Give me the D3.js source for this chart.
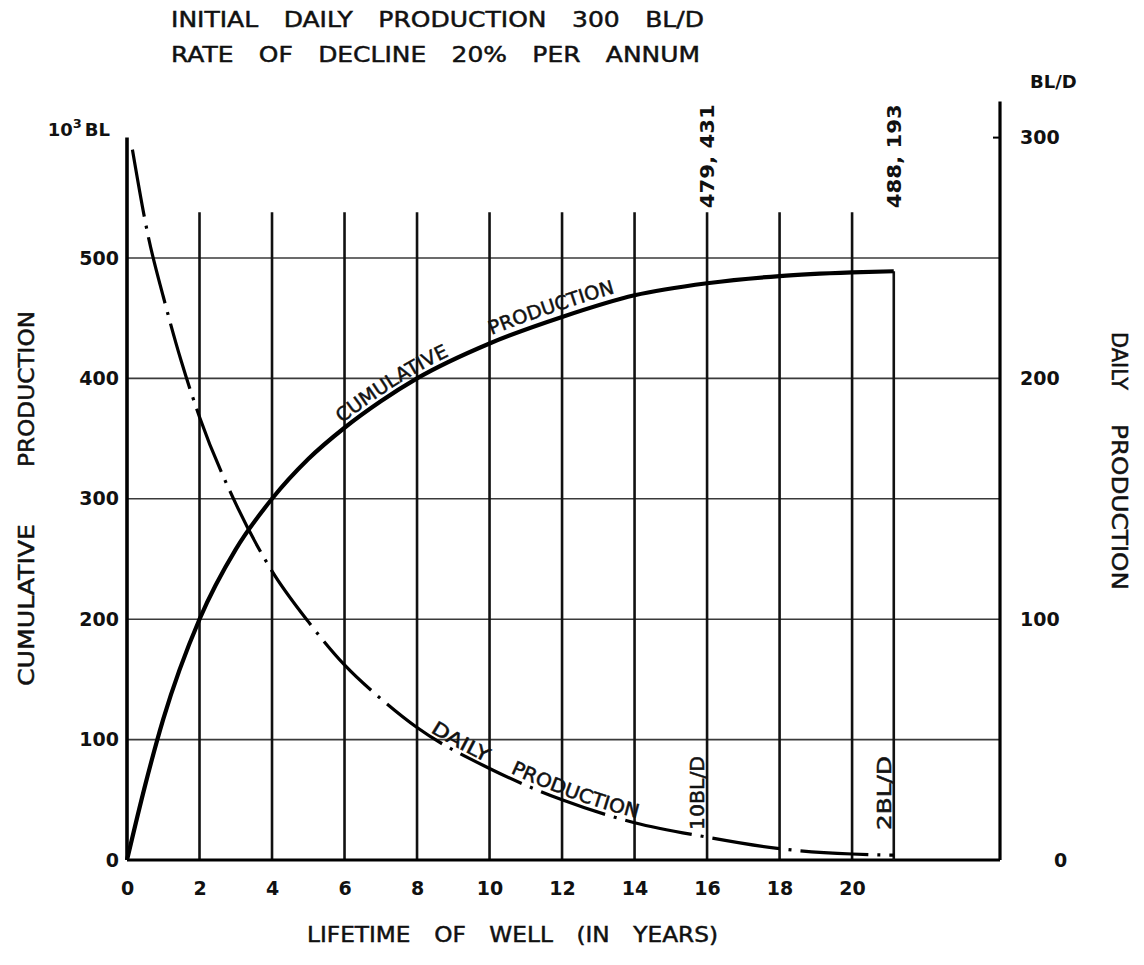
<!DOCTYPE html>
<html>
<head>
<meta charset="utf-8">
<script src="https://cdn.jsdelivr.net/npm/d3@7"></script>
<style>
  body { margin: 0; background: #fff; }
  svg { display: block; }
  text { font-family: "DejaVu Sans", sans-serif; fill: #111; }
  .lettering { stroke: #111; stroke-width: 0.5px; }
</style>
</head>
<body>
<div id="chart"></div>
<script>
// ticks
const yearTicks = [0, 2, 4, 6, 8, 10, 12, 14, 16, 18, 20];
const leftTicks = [0, 100, 200, 300, 400, 500];   // 10^3 BL
const rightTicks = [0, 100, 200, 300];            // BL/D

// cumulative production (10^3 BL)
const cumYears  = [0, 0.5, 1, 2, 3, 4, 5, 6, 7, 8, 10, 12, 14, 16, 18, 20, 21.15];
const cumValues = [0, 62, 117, 200, 258, 300, 333, 359, 381, 400, 429, 451, 469, 479, 485, 488, 489];

// daily production (BL/D)
const dailyYears  = [0.15, 0.6, 1, 1.5, 2, 3, 4, 5, 6, 7, 8, 10, 12, 14, 16, 18, 20, 21.15];
const dailyValues = [295, 258, 234, 207, 184, 148, 120, 99, 81, 67, 55, 38, 25, 15.5, 9.5, 4.7, 2.5, 2];

// marked points
const markYears = [16, 21.15];
const markCum = ["479, 431", "488, 193"];
const markDaily = ["10BL/D", "2BL/D"];

const W = 1144, H = 965;
const gridTop = 538;   // vertical grid lines stop here (left units)

const svg = d3.select("#chart").append("svg")
    .attr("width", W)
    .attr("height", H);

// scales
const x = d3.scaleLinear().domain([0, 24.08]).range([127, 1000]);
const yL = d3.scaleLinear().domain([0, 600]).range([860, 137.6]);
const yR = d3.scaleLinear().domain([0, 300]).range([860, 137.6]);

// horizontal grid
svg.append("g").selectAll("line")
    .data(leftTicks.filter(d => d > 0))
    .enter().append("line")
    .attr("x1", x(0)).attr("x2", x.range()[1])
    .attr("y1", d => yL(d)).attr("y2", d => yL(d))
    .attr("stroke", "#3a3a3a")
    .attr("stroke-width", 1.6);

// vertical grid
svg.append("g").selectAll("line")
    .data(yearTicks.filter(d => d > 0))
    .enter().append("line")
    .attr("x1", d => x(d)).attr("x2", d => x(d))
    .attr("y1", yL(gridTop)).attr("y2", yL(0))
    .attr("stroke", "#111")
    .attr("stroke-width", 2.6);

// frame: left axis, right axis, bottom
svg.append("line")
    .attr("x1", x(0)).attr("x2", x(0))
    .attr("y1", yL(600)).attr("y2", yL(0))
    .attr("stroke", "#000").attr("stroke-width", 3.6);
svg.append("line")
    .attr("x1", x.range()[1]).attr("x2", x.range()[1])
    .attr("y1", yR(315)).attr("y2", yR(0))
    .attr("stroke", "#000").attr("stroke-width", 3.2);
svg.append("line")
    .attr("x1", x(0)).attr("x2", x.range()[1])
    .attr("y1", yL(0)).attr("y2", yL(0))
    .attr("stroke", "#000").attr("stroke-width", 3.2);
// small tick at 300 on the right axis
svg.append("line")
    .attr("x1", x.range()[1] - 7).attr("x2", x.range()[1])
    .attr("y1", yR(300)).attr("y2", yR(300))
    .attr("stroke", "#000").attr("stroke-width", 2);

// axes (labels only)
const axL = svg.append("g")
    .attr("transform", `translate(${x(0)},0)`)
    .call(d3.axisLeft(yL).tickValues(leftTicks).tickSize(0).tickPadding(8));
const axR = svg.append("g")
    .attr("transform", `translate(${x.range()[1]},0)`)
    .call(d3.axisRight(yR).tickValues(rightTicks).tickSize(0).tickPadding(20));
const axB = svg.append("g")
    .attr("transform", `translate(0,${yL(0)})`)
    .call(d3.axisBottom(x).tickValues(yearTicks).tickSize(0).tickPadding(22));

[axL, axR, axB].forEach(a => {
    a.select(".domain").remove();
    a.selectAll("text")
        .style("font-family", '"DejaVu Sans", sans-serif')
        .style("font-size", "19px")
        .style("font-weight", "bold")
        .attr("fill", "#111");
});
axR.selectAll(".tick text").filter(d => d === 0).attr("x", 54);

// unit labels
const unitL = svg.append("text")
    .attr("x", 110).attr("y", 136)
    .attr("text-anchor", "end")
    .style("font-size", "18px").style("font-weight", "bold");
unitL.append("tspan").text("10");
unitL.append("tspan").attr("dy", -8).style("font-size", "13px").text("3");
unitL.append("tspan").attr("dy", 8).attr("dx", 3).text("BL");

svg.append("text")
    .attr("x", 1030).attr("y", 88)
    .style("font-size", "18px").style("font-weight", "bold")
    .text("BL/D");

// hand lettering: condensed glyphs, wide word gaps
function lettering(sel, size, len, str) {
    return sel.attr("class", "lettering")
        .attr("textLength", len)
        .attr("lengthAdjust", "spacingAndGlyphs")
        .style("font-size", size + "px")
        .style("word-spacing", (size * 0.7) + "px")
        .text(str);
}

lettering(svg.append("text").attr("x", 171).attr("y", 27), 22, 533,
    "INITIAL DAILY PRODUCTION 300 BL/D");
lettering(svg.append("text").attr("x", 171).attr("y", 62), 22, 529,
    "RATE OF DECLINE 20% PER ANNUM");
lettering(svg.append("text").attr("x", 307).attr("y", 942), 22, 411,
    "LIFETIME OF WELL (IN YEARS)");

// vertical axis titles, one word at a time: [word, start along the reading direction, length]
const leftTitle = [["CUMULATIVE", 686, 162], ["PRODUCTION", 467, 156]];
const rightTitle = [["DAILY", 332, 58], ["PRODUCTION", 424, 166]];
leftTitle.forEach(([w, s, len]) => {
    lettering(svg.append("text")
        .attr("transform", `translate(34,${s}) rotate(-90)`), 22, len, w);
});
rightTitle.forEach(([w, s, len]) => {
    lettering(svg.append("text")
        .attr("transform", `translate(1112,${s}) rotate(90)`), 22, len, w);
});

// end of well life: drop line at the last year
const endYear = cumYears[cumYears.length - 1];
svg.append("line")
    .attr("x1", x(endYear)).attr("x2", x(endYear))
    .attr("y1", yL(cumValues[cumValues.length - 1])).attr("y2", yL(0))
    .attr("stroke", "#111").attr("stroke-width", 2.6);

// curves
const cumLine = d3.line()
    .x((d, i) => x(cumYears[i]))
    .y(d => yL(d))
    .curve(d3.curveMonotoneX);
const cumPath = svg.append("path")
    .datum(cumValues)
    .attr("id", "cumPath")
    .attr("d", cumLine)
    .attr("fill", "none")
    .attr("stroke", "#000")
    .attr("stroke-width", 4.2);

const dailyLine = d3.line()
    .x((d, i) => x(dailyYears[i]))
    .y(d => yR(d))
    .curve(d3.curveMonotoneX);
const dailyPath = svg.append("path")
    .datum(dailyValues)
    .attr("id", "dailyPath")
    .attr("d", dailyLine)
    .attr("fill", "none")
    .attr("stroke", "#000")
    .attr("stroke-width", 3.2)
    .attr("stroke-dasharray", "68,9,3,9");

// find path length where the curve reaches a given x
function lengthAtX(node, tx) {
    let lo = 0, hi = node.getTotalLength();
    for (let i = 0; i < 40; i++) {
        const mid = (lo + hi) / 2;
        if (node.getPointAtLength(mid).x < tx) lo = mid; else hi = mid;
    }
    return lo;
}

const curveLabels = [
    { path: cumPath, id: "cumPath", text: "CUMULATIVE", x0: 345, len: 126, dy: -5 },
    { path: cumPath, id: "cumPath", text: "PRODUCTION", x0: 494, len: 130, dy: -7 },
    { path: dailyPath, id: "dailyPath", text: "DAILY", x0: 428, len: 64, dy: -4 },
    { path: dailyPath, id: "dailyPath", text: "PRODUCTION", x0: 508, len: 136, dy: -5 }
];
curveLabels.forEach(c => {
    svg.append("text")
        .attr("class", "lettering")
        .attr("dy", c.dy)
        .style("font-size", "19px")
        .append("textPath")
        .attr("href", "#" + c.id)
        .attr("startOffset", lengthAtX(c.path.node(), c.x0))
        .attr("textLength", c.len)
        .attr("lengthAdjust", "spacingAndGlyphs")
        .text(c.text);
});

// marked values above / beside the lines
markYears.forEach((yr, i) => {
    svg.append("text")
        .attr("transform", `translate(${x(yr) + 7},${yL(gridTop) - 4}) rotate(-90)`)
        .style("font-size", "19px").style("font-weight", "bold")
        .attr("textLength", 104).attr("lengthAdjust", "spacingAndGlyphs")
        .text(markCum[i]);
    svg.append("text")
        .attr("class", "lettering")
        .attr("transform", `translate(${x(yr) - 3},${yL(0) - 30}) rotate(-90)`)
        .style("font-size", "19px")
        .attr("textLength", 74).attr("lengthAdjust", "spacingAndGlyphs")
        .text(markDaily[i]);
});
</script>
</body>
</html>
